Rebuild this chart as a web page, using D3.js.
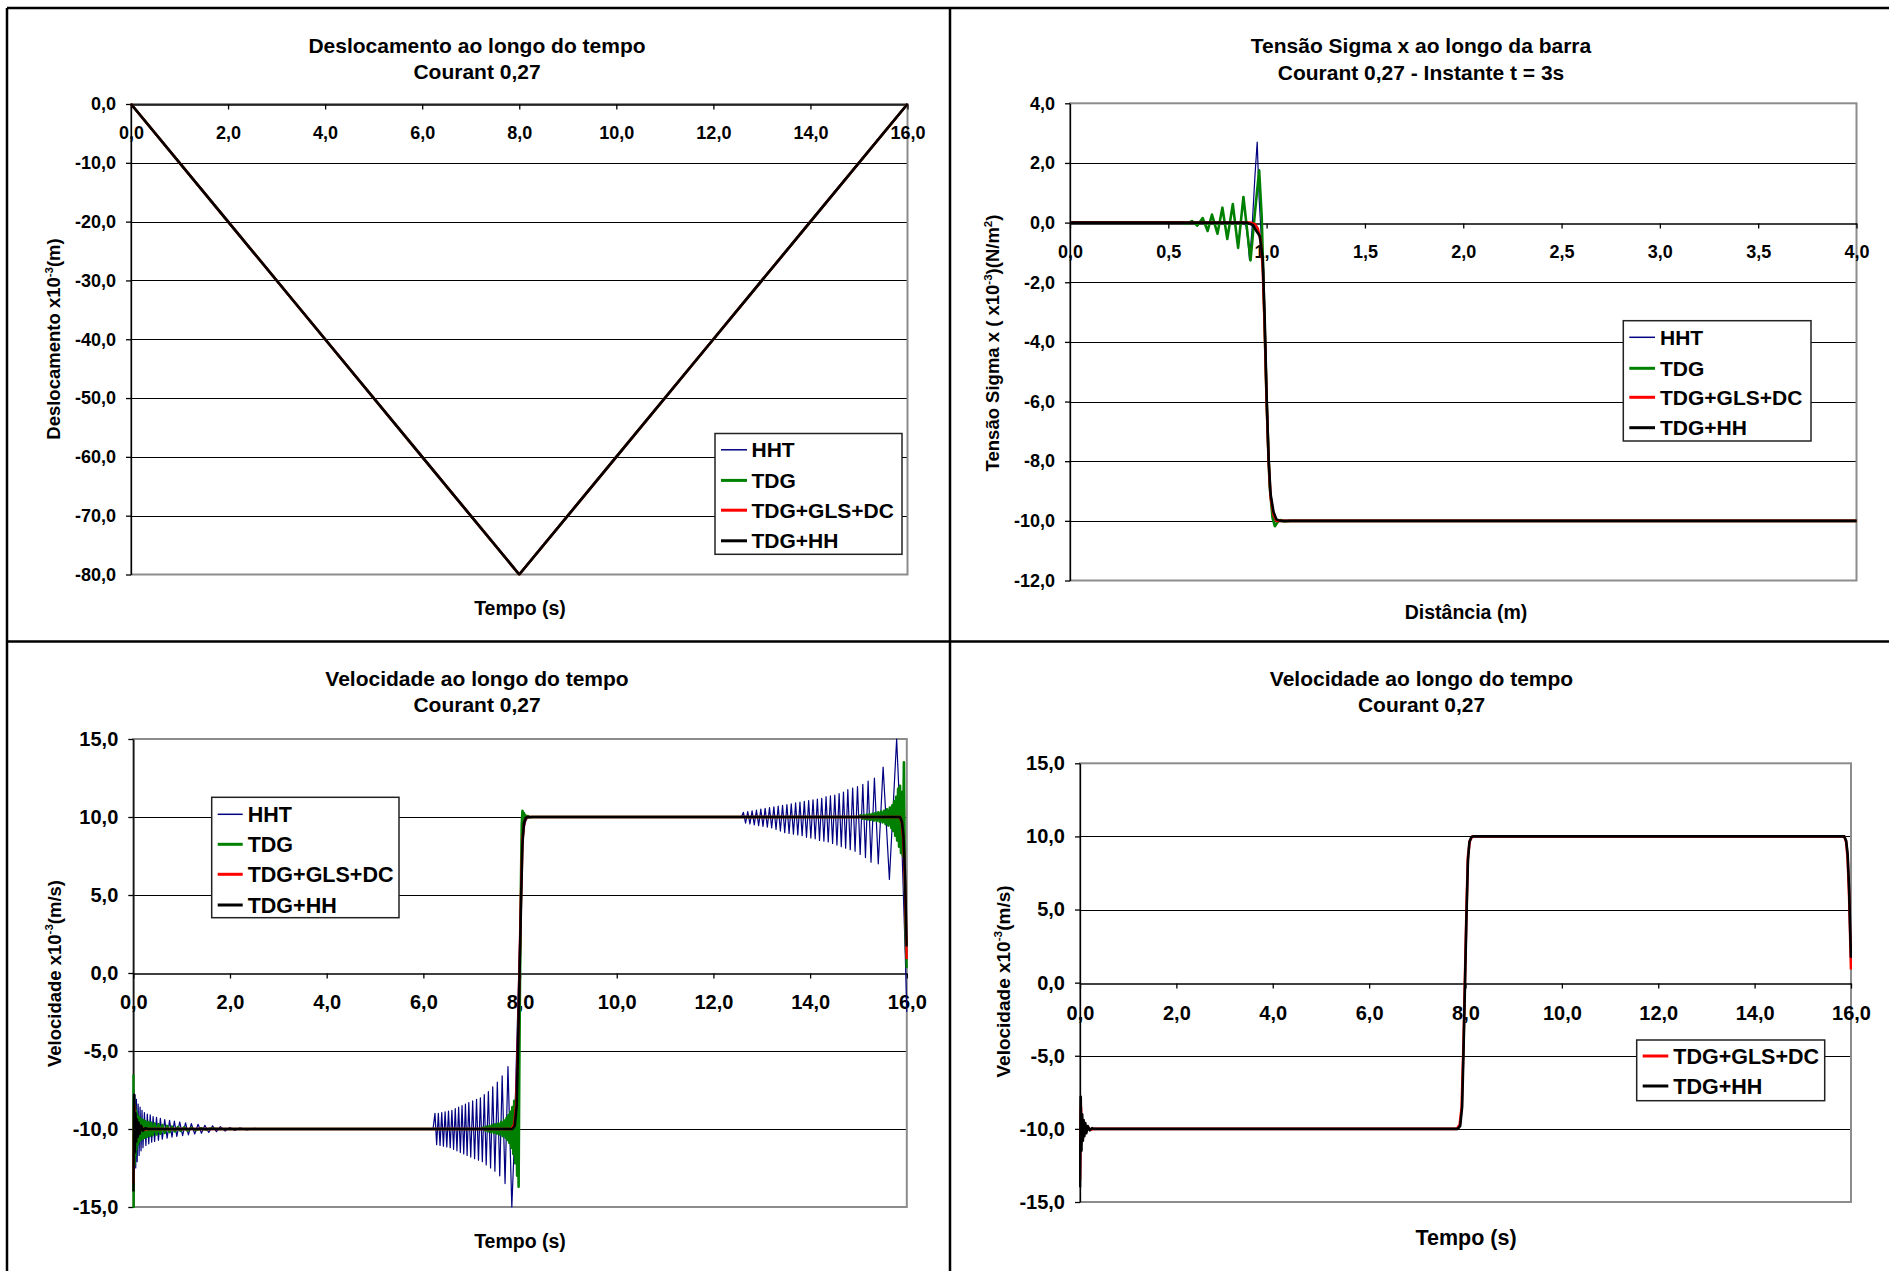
<!DOCTYPE html>
<html>
<head>
<meta charset="utf-8">
<script src="https://cdn.jsdelivr.net/npm/d3@7"></script>
<style>
  html, body { margin: 0; padding: 0; background: #fff; }
  svg { display: block; font-family: "Liberation Sans", Arial, sans-serif; font-weight: bold; }
</style>
</head>
<body>
<svg id="fig" width="1889" height="1271"></svg>
<script>
// ---------- Deslocamento (x10^-3 m) ao longo do tempo ----------
const dispTime = [0, 2, 4, 6, 8, 10, 12, 14, 16];
const dispHHT = [0, -20, -40, -60, -80, -60, -40, -20, 0];
const dispTDG = [0, -20, -40, -60, -80, -60, -40, -20, 0];
const dispGLS = [0, -20, -40, -60, -80, -60, -40, -20, 0];
const dispHH  = [0, -20, -40, -60, -80, -60, -40, -20, 0];

// ---------- Tensão Sigma x ao longo da barra, t = 3 s ----------
const stressHHT = [[0,0],[0.5,0],[0.88,0],[0.895,-0.1],[0.905,-0.6],[0.913,-1.25],[0.925,-0.3],[0.94,1.5],[0.952,2.7],[0.962,0.8],[0.972,-0.4],[0.985,-1.6],[0.995,-4.5],[1.005,-7.2],[1.02,-9.2],[1.035,-9.9],[1.05,-10.05],[1.07,-10],[4,-10]];
const stressTDG = [[0,0],[0.57,0],[0.595,-0.03],[0.62,0.05],[0.647,-0.1],[0.675,0.15],[0.70,-0.28],[0.722,0.27],[0.75,-0.37],[0.775,0.5],[0.80,-0.55],[0.828,0.62],[0.855,-0.85],[0.882,0.86],[0.918,-1.27],[0.94,0.3],[0.962,1.75],[0.975,0.2],[0.99,-3.5],[1.0,-6],[1.015,-8.8],[1.03,-9.9],[1.042,-10.18],[1.055,-10.05],[1.07,-9.97],[1.09,-10.02],[1.12,-10],[4,-10]];
const stressGLS = [[0,0],[0.92,0],[0.94,-0.05],[0.955,-0.2],[0.97,-0.6],[0.98,-1.5],[0.99,-3.5],[1.0,-6.0],[1.01,-8.0],[1.02,-9.2],[1.035,-9.8],[1.05,-10.0],[4,-10]];
const stressHH  = [[0,0],[0.9,0],[0.93,-0.08],[0.95,-0.3],[0.965,-0.45],[0.98,-1.2],[0.99,-3.2],[1.0,-5.8],[1.01,-7.9],[1.02,-9.1],[1.035,-9.7],[1.05,-9.95],[1.07,-10],[4,-10]];

// ---------- Velocidade (x10^-3 m/s) ao longo do tempo ----------
const velHHT = [
  [0,-10],[0.008,-7.5],[0.02,-13.0],[0.035,-7.8],[0.05,-12.5],[0.065,-8.1],[0.08,-12.1],[0.1,-8.4],[0.12,-11.7],[0.14,-8.6],[0.16,-11.4],[0.18,-8.8],[0.2,-11.2],
  [0.23,-8.95],[0.26,-11.05],[0.29,-9.05],[0.32,-10.95],[0.35,-9.1],[0.38,-10.85],[0.41,-9.2],[0.44,-10.8],[0.48,-9.25],[0.52,-10.72],[0.56,-9.32],[0.6,-10.65],
  [0.65,-9.4],[0.7,-10.58],[0.75,-9.45],[0.8,-10.52],[0.85,-9.5],[0.9,-10.48],[0.96,-9.55],[1.02,-10.43],[1.08,-9.6],[1.14,-10.38],[1.2,-9.65],[1.27,-10.32],
  [1.34,-9.7],[1.41,-10.27],[1.48,-9.76],[1.56,-10.22],[1.64,-9.8],[1.72,-10.17],[1.8,-9.85],[1.9,-10.13],[2.0,-9.9],[2.1,-10.1],[2.2,-9.93],[2.35,-10.06],
  [2.5,-9.96],[2.7,-10.03],[2.9,-9.98],[3.1,-10],[6.2,-10],
  [6.24,-9.0],[6.275,-11.0],[6.31,-9.0],[6.345,-11.05],[6.38,-8.95],[6.415,-11.1],[6.45,-8.9],[6.485,-11.15],[6.52,-8.85],[6.555,-11.2],[6.59,-8.8],
  [6.625,-11.3],[6.66,-8.7],[6.695,-11.4],[6.73,-8.6],[6.765,-11.5],[6.8,-8.5],[6.835,-11.6],[6.87,-8.4],[6.905,-11.7],[6.94,-8.3],[6.98,-11.8],[7.02,-8.2],
  [7.06,-11.9],[7.1,-8.1],[7.14,-12.0],[7.18,-8.0],[7.22,-12.1],[7.26,-7.8],[7.30,-12.3],[7.345,-7.6],[7.39,-12.5],[7.435,-7.3],[7.48,-12.7],[7.53,-7.0],
  [7.58,-13.0],[7.63,-6.6],[7.69,-13.5],[7.75,-6.0],[7.83,-15.0],[7.88,-11.0],[7.92,-6.0],[7.96,-1.5],[8.0,3.0],
  [8.04,7.5],[8.08,9.3],[8.13,9.85],[8.2,10],[12.58,10],
  [12.62,10.3],[12.665,9.6],[12.71,10.35],[12.755,9.55],[12.8,10.4],[12.845,9.5],[12.89,10.45],[12.935,9.45],[12.98,10.5],[13.025,9.4],[13.07,10.55],
  [13.115,9.35],[13.16,10.6],[13.205,9.3],[13.25,10.65],[13.295,9.2],[13.34,10.7],[13.385,9.1],[13.43,10.75],[13.475,9.0],[13.52,10.8],[13.565,8.95],
  [13.61,10.85],[13.655,8.9],[13.7,10.9],[13.745,8.85],[13.79,10.95],[13.835,8.8],[13.88,11.0],[13.925,8.7],[13.97,11.05],[14.015,8.65],[14.06,11.1],
  [14.105,8.6],[14.15,11.15],[14.195,8.5],[14.24,11.2],[14.285,8.45],[14.33,11.3],[14.375,8.4],[14.42,11.35],[14.465,8.3],[14.51,11.4],[14.555,8.2],
  [14.6,11.5],[14.645,8.1],[14.69,11.6],[14.735,8.0],[14.78,11.75],[14.83,7.9],[14.88,11.85],[14.93,7.8],[14.98,11.95],[15.035,7.6],[15.09,12.1],
  [15.145,7.4],[15.2,12.3],[15.26,7.1],[15.33,12.5],[15.41,7.0],[15.51,13.2],[15.64,6.0],[15.79,15.0],[15.86,10.0],
  [15.9,8.0],[15.94,4.0],[15.97,1.0],[16.0,-2.5]
];
const velTDG = [
  [0,-6.5],[0.005,-15],[0.015,-8.0],[0.025,-12.3],[0.035,-8.5],[0.045,-11.7],[0.055,-8.8],[0.065,-11.3],[0.075,-9.0],[0.09,-11.0],[0.105,-9.2],[0.12,-10.8],
  [0.135,-9.3],[0.15,-10.7],[0.17,-9.4],[0.19,-10.6],[0.21,-9.45],[0.23,-10.55],[0.25,-9.5],[0.28,-10.5],[0.31,-9.55],[0.34,-10.45],[0.37,-9.6],[0.4,-10.4],
  [0.44,-9.65],[0.48,-10.35],[0.52,-9.7],[0.56,-10.3],[0.6,-9.75],[0.65,-10.25],[0.7,-9.8],[0.75,-10.2],[0.8,-9.85],[0.86,-10.15],[0.92,-9.88],[0.98,-10.12],
  [1.05,-9.9],[1.12,-10.1],[1.2,-9.93],[1.3,-10.07],[1.4,-9.95],[1.5,-10.04],[1.6,-9.97],[1.8,-10],[7.2,-10],
  [7.25,-9.9],[7.28,-10.1],[7.31,-9.85],[7.34,-10.15],[7.37,-9.8],[7.4,-10.2],[7.43,-9.75],[7.46,-10.25],[7.49,-9.7],[7.52,-10.3],[7.55,-9.65],[7.58,-10.35],
  [7.61,-9.55],[7.64,-10.45],[7.67,-9.45],[7.7,-10.55],[7.72,-9.3],[7.74,-10.7],[7.76,-9.1],[7.78,-10.9],[7.8,-8.9],[7.82,-11.2],[7.84,-8.6],[7.86,-11.6],
  [7.88,-8.2],[7.9,-12.2],[7.92,-7.8],[7.94,-13.0],[7.955,-7.5],[7.97,-13.7],[7.985,-6],[8.0,0],[8.02,6],[8.035,9.5],[8.05,10.4],[8.065,9.7],[8.08,10.25],
  [8.095,9.85],[8.11,10.12],[8.13,9.92],[8.16,10.06],[8.2,9.97],[8.25,10],[15.0,10],
  [15.05,10.1],[15.08,9.9],[15.11,10.12],[15.14,9.88],[15.17,10.15],[15.2,9.85],[15.23,10.18],[15.26,9.82],[15.29,10.2],[15.32,9.78],[15.35,10.25],
  [15.38,9.75],[15.41,10.3],[15.44,9.7],[15.47,10.35],[15.5,9.65],[15.53,10.4],[15.56,9.55],[15.59,10.5],[15.62,9.45],[15.65,10.6],[15.68,9.3],[15.7,10.75],
  [15.72,9.1],[15.74,11.0],[15.76,8.8],[15.78,11.3],[15.8,8.5],[15.82,11.8],[15.84,8.1],[15.86,12.0],[15.88,7.7],[15.9,11.6],[15.92,7.5],[15.94,13.5],
  [15.96,6],[15.98,2],[16.0,0.3]
];
const velGLS = [
  [0,-13.5],[0.02,-8.5],[0.04,-10.8],[0.06,-9.5],[0.08,-10.4],[0.1,-9.7],[0.13,-10.2],[0.17,-9.9],[0.22,-10.05],[0.3,-10],[7.82,-10],[7.88,-9.7],
  [7.92,-8.5],[7.96,-4],[7.99,0.5],[8.02,5],[8.05,8.6],[8.09,9.7],[8.14,10],[15.86,10],[15.9,9.6],[15.93,8.5],[15.96,6],[15.98,3.5],[16.0,0.9]
];
const velHH = [
  [0,-14],[0.015,-7.8],[0.03,-11.5],[0.045,-9.0],[0.06,-10.8],[0.075,-9.4],[0.09,-10.5],[0.11,-9.6],[0.13,-10.3],[0.16,-9.8],[0.2,-10.1],[0.25,-9.95],
  [0.3,-10],[7.84,-10],[7.89,-9.8],[7.93,-8.5],[7.96,-4.5],[7.99,0],[8.02,4.5],[8.05,8.3],[8.08,9.6],[8.12,9.95],[8.16,10],[15.86,10],[15.9,9.7],
  [15.93,8.8],[15.96,6.5],[15.98,4],[16.0,1.7]
];

// ---------- axis ticks ----------
const timeTicks = [0, 2, 4, 6, 8, 10, 12, 14, 16];
const dispTicks = [-80, -70, -60, -50, -40, -30, -20, -10, 0];
const distTicks = [0, 0.5, 1, 1.5, 2, 2.5, 3, 3.5, 4];
const stressTicks = [-12, -10, -8, -6, -4, -2, 0, 2, 4];
const velTicks = [-15, -10, -5, 0, 5, 10, 15];

const seriesNames = ["HHT", "TDG", "TDG+GLS+DC", "TDG+HH"];
const seriesColors = ["#000080", "#008000", "#FF0000", "#000000"];
const seriesWidths = [1.2, 2.6, 2.6, 2.6];

const fmt = d3.formatLocale({decimal: ",", thousands: ".", grouping: [3], currency: ["", ""], minus: "-"}).format(".1f");
const svg = d3.select("#fig");

// page frame (table borders around the four charts)
const frame = svg.append("g").attr("stroke", "#000").attr("stroke-width", 2.5);
frame.append("line").attr("x1", 7).attr("y1", 8).attr("x2", 1889).attr("y2", 8);
frame.append("line").attr("x1", 7).attr("y1", 8).attr("x2", 7).attr("y2", 1271);
frame.append("line").attr("x1", 950).attr("y1", 8).attr("x2", 950).attr("y2", 1271);
frame.append("line").attr("x1", 7).attr("y1", 641.5).attr("x2", 1889).attr("y2", 641.5);

let clipId = 0;
function drawChart(c) {
  const g = svg.append("g");
  const x = d3.scaleLinear().domain(c.xDomain).range([c.left, c.right]);
  const y = d3.scaleLinear().domain(c.yDomain).range([c.bottom, c.top]);

  // horizontal gridlines
  g.append("g").selectAll("line")
    .data(c.yTicks.filter(v => v !== c.yDomain[0] && v !== c.yDomain[1] && v !== 0))
    .join("line")
    .attr("x1", c.left).attr("x2", c.right)
    .attr("y1", d => Math.round(y(d)) + 0.5).attr("y2", d => Math.round(y(d)) + 0.5)
    .attr("stroke", "#000").attr("stroke-width", 1);

  // plot area border
  g.append("rect")
    .attr("x", c.left).attr("y", c.top)
    .attr("width", c.right - c.left).attr("height", c.bottom - c.top)
    .attr("fill", "none").attr("stroke", "#8c8c8c").attr("stroke-width", 2);

  // y axis
  const ya = g.append("g").attr("transform", `translate(${c.left},0)`)
    .call(d3.axisLeft(y).tickValues(c.yTicks).tickSize(5).tickSizeOuter(0).tickPadding(10).tickFormat(fmt));
  // x axis crossing at zero
  const xa = g.append("g").attr("transform", `translate(0,${Math.round(y(0)) + 0.5})`)
    .call(d3.axisBottom(x).tickValues(c.xTicks).tickSize(5).tickSizeOuter(0).tickPadding(c.xPad).tickFormat(fmt));
  [ya, xa].forEach(a => {
    a.attr("font-family", null).attr("font-size", c.tickFont).attr("font-weight", "bold");
    a.selectAll("path.domain").attr("stroke", "#000").attr("stroke-width", 1.3);
    a.selectAll(".tick line").attr("stroke", "#000").attr("stroke-width", 1.3);
    a.selectAll(".tick text").attr("fill", "#000");
  });

  // series
  const cid = "clip" + (clipId++);
  g.append("clipPath").attr("id", cid).append("rect")
    .attr("x", c.left - 1).attr("y", c.top - 2).attr("width", c.right - c.left + 2).attr("height", c.bottom - c.top + 3);
  const line = d3.line().x(d => x(d[0])).y(d => y(d[1]));
  const sg = g.append("g").attr("clip-path", `url(#${cid})`);
  c.series.forEach(s => {
    sg.append("path").attr("d", line(s.data))
      .attr("fill", "none").attr("stroke", seriesColors[s.idx]).attr("stroke-width", seriesWidths[s.idx])
      .attr("stroke-linejoin", "round");
  });

  // title (two lines)
  c.title.forEach((t, i) => {
    g.append("text").attr("x", c.titleX).attr("y", c.titleY[i]).attr("dy", "0.35em")
      .attr("text-anchor", "middle").attr("font-size", c.titleFont).text(t);
  });

  // x axis title
  g.append("text").attr("x", c.xTitle[0]).attr("y", c.xTitle[1]).attr("dy", "0.35em")
    .attr("text-anchor", "middle").attr("font-size", c.xTitleFont).text(c.xLabel);

  // y axis title (with superscripts)
  const yt = g.append("text")
    .attr("transform", `translate(${c.yTitle[0]},${c.yTitle[1]}) rotate(-90)`)
    .attr("dy", "0.35em").attr("text-anchor", "middle").attr("font-size", c.yTitleFont);
  c.yLabel.forEach(part => {
    const ts = yt.append("tspan").text(part.t);
    if (part.sup) ts.attr("font-size", c.yTitleFont * 0.62).attr("dy", -c.yTitleFont * 0.42);
    else if (part.after) ts.attr("dy", c.yTitleFont * 0.42);
  });

  // legend
  const L = c.legend;
  const lg = g.append("g");
  lg.append("rect").attr("x", L.x0).attr("y", L.y0).attr("width", L.x1 - L.x0).attr("height", L.y1 - L.y0)
    .attr("fill", "#fff").attr("stroke", "#222").attr("stroke-width", 1.5);
  L.items.forEach((idx, i) => {
    const yy = L.rows[i];
    lg.append("line").attr("x1", L.s0).attr("x2", L.s1).attr("y1", yy).attr("y2", yy)
      .attr("stroke", seriesColors[idx]).attr("stroke-width", idx === 0 ? 1.5 : 3);
    lg.append("text").attr("x", L.tx).attr("y", yy).attr("dy", "0.35em")
      .attr("font-size", c.legendFont).text(seriesNames[idx]);
  });
}

const zipT = (ts, vs) => ts.map((t, i) => [t, vs[i]]);

drawChart({
  left: 131, right: 907.5, top: 104, bottom: 574.5,
  xDomain: [0, 16], yDomain: [-80, 0], xTicks: timeTicks, yTicks: dispTicks,
  tickFont: 18, xPad: 17, titleFont: 21, xTitleFont: 19.5, yTitleFont: 18.5, legendFont: 21,
  title: ["Deslocamento ao longo do tempo", "Courant 0,27"], titleX: 477, titleY: [46, 72],
  xLabel: "Tempo (s)", xTitle: [520, 608],
  yLabel: [{t: "Deslocamento x10"}, {t: "-3", sup: true}, {t: "(m)", after: true}], yTitle: [54, 339],
  series: [
    {idx: 0, data: zipT(dispTime, dispHHT)}, {idx: 1, data: zipT(dispTime, dispTDG)},
    {idx: 2, data: zipT(dispTime, dispGLS)}, {idx: 3, data: zipT(dispTime, dispHH)}
  ],
  legend: {x0: 715, y0: 433.5, x1: 902, y1: 554.3, s0: 721, s1: 747, tx: 751.5, rows: [449.8, 480.4, 510.2, 540.8], items: [0, 1, 2, 3]}
});

drawChart({
  left: 1070, right: 1856.5, top: 103.3, bottom: 580.5,
  xDomain: [0, 4], yDomain: [-12, 4], xTicks: distTicks, yTicks: stressTicks,
  tickFont: 18, xPad: 17, titleFont: 21, xTitleFont: 19.5, yTitleFont: 18.5, legendFont: 21,
  title: ["Tensão Sigma x ao longo da barra", "Courant 0,27 - Instante t = 3s"], titleX: 1421, titleY: [46, 73],
  xLabel: "Distância (m)", xTitle: [1466, 612],
  yLabel: [{t: "Tensão Sigma x ( x10"}, {t: "-3", sup: true}, {t: ")(N/m", after: true}, {t: "2", sup: true}, {t: ")", after: true}], yTitle: [993, 343],
  series: [
    {idx: 0, data: stressHHT}, {idx: 1, data: stressTDG}, {idx: 2, data: stressGLS}, {idx: 3, data: stressHH}
  ],
  legend: {x0: 1623.3, y0: 320.7, x1: 1811, y1: 441, s0: 1629.3, s1: 1655, tx: 1660, rows: [337.3, 368.3, 397.3, 427.7], items: [0, 1, 2, 3]}
});

drawChart({
  left: 133.3, right: 906.8, top: 739, bottom: 1207,
  xDomain: [0, 16], yDomain: [-15, 15], xTicks: timeTicks, yTicks: velTicks,
  tickFont: 20, xPad: 16.5, titleFont: 21, xTitleFont: 19.5, yTitleFont: 18.5, legendFont: 21.5,
  title: ["Velocidade ao longo do tempo", "Courant 0,27"], titleX: 477, titleY: [679, 705],
  xLabel: "Tempo (s)", xTitle: [520, 1241],
  yLabel: [{t: "Velocidade  x10"}, {t: "-3", sup: true}, {t: "(m/s)", after: true}], yTitle: [54.5, 973.5],
  series: [
    {idx: 0, data: velHHT}, {idx: 1, data: velTDG}, {idx: 2, data: velGLS}, {idx: 3, data: velHH}
  ],
  legend: {x0: 211.7, y0: 797.3, x1: 399, y1: 917.7, s0: 217.7, s1: 242.7, tx: 247.7, rows: [814.3, 844.3, 874.3, 905], items: [0, 1, 2, 3]}
});

drawChart({
  left: 1080, right: 1851, top: 763.3, bottom: 1202,
  xDomain: [0, 16], yDomain: [-15, 15], xTicks: timeTicks, yTicks: velTicks,
  tickFont: 20, xPad: 17, titleFont: 21, xTitleFont: 21.5, yTitleFont: 19, legendFont: 21.5,
  title: ["Velocidade ao longo do tempo", "Courant 0,27"], titleX: 1421.5, titleY: [679, 705],
  xLabel: "Tempo (s)", xTitle: [1466, 1237],
  yLabel: [{t: "Velocidade  x10"}, {t: "-3", sup: true}, {t: "(m/s)", after: true}], yTitle: [1003, 981.5],
  series: [
    {idx: 2, data: velGLS}, {idx: 3, data: velHH}
  ],
  legend: {x0: 1636.7, y0: 1040, x1: 1824.7, y1: 1100.7, s0: 1642.7, s1: 1668.3, tx: 1673.3, rows: [1056, 1086], items: [2, 3]}
});
</script>
</body>
</html>
